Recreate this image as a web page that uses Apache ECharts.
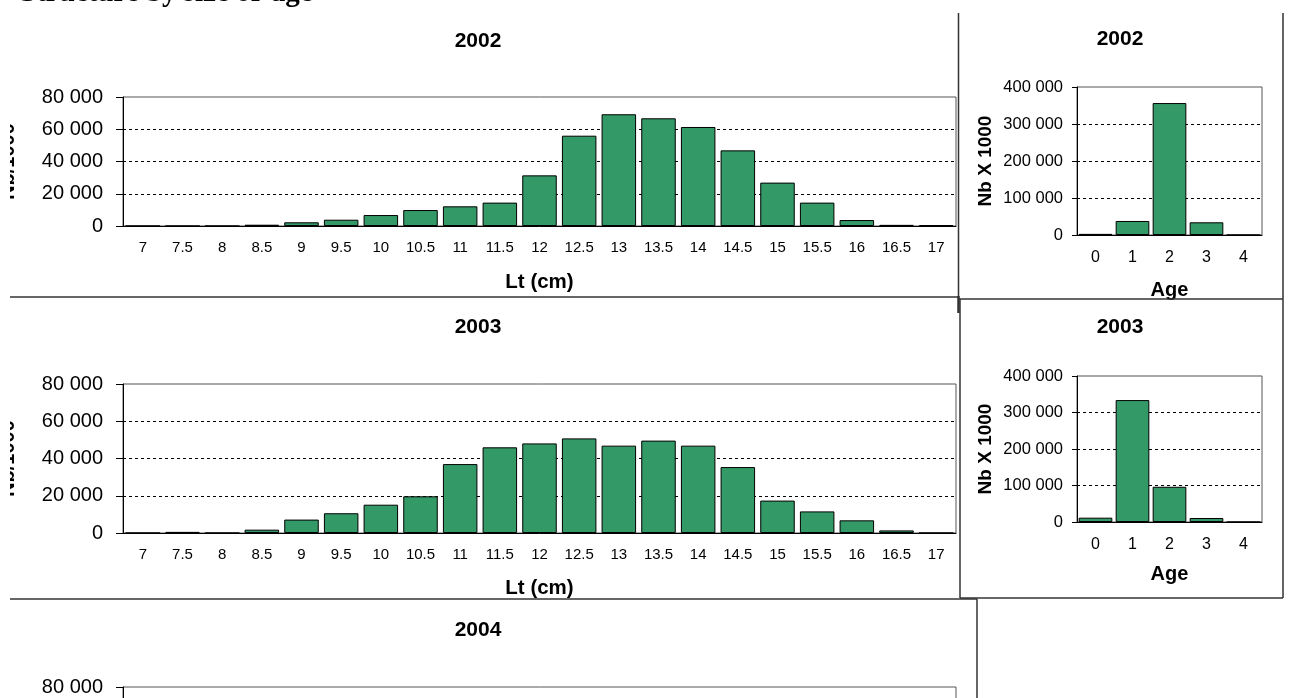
<!DOCTYPE html>
<html>
<head>
<meta charset="utf-8">
<script src="https://cdn.jsdelivr.net/npm/echarts@6/dist/echarts.min.js"></script>
<style>
html,body{margin:0;padding:0;background:#fff;}
#c{width:1294px;height:698px;}
</style>
</head>
<body>
<div id="c"></div>
<script>
// ---- data ----
const lengthCats = ['7','7.5','8','8.5','9','9.5','10','10.5','11','11.5','12','12.5','13','13.5','14','14.5','15','15.5','16','16.5','17'];
const len2002 = [0,0,0,800,2300,3900,6800,9900,12200,14500,31400,56000,69300,66800,61400,46900,26900,14500,3700,700,600];
const len2003 = [0,600,0,1800,7200,10600,15200,19700,37000,46000,48100,50800,46900,49600,46900,35400,17400,11600,6800,1400,0];
const len2004 = [];
const ageCats = ['0','1','2','3','4'];
const age2002 = [3000,37900,356600,34300,0];
const age2003 = [11900,334000,96500,11000,0];
const yearTitles = ['2002','2003','2004'];
const pageTitle = 'Structure by size or age';

// ---- styling ----
const FONT = '"Liberation Sans", Arial, sans-serif';
const GREEN = '#339966';
const fmt = v => String(v).replace(/\B(?=(\d{3})+(?!\d))/g, ' ');

function xAxisLen(gi, gap) {
  return {
    type: 'category', gridIndex: gi, data: lengthCats,
    name: 'Lt (cm)', nameLocation: 'middle', nameGap: gap,
    nameTextStyle: {fontFamily: FONT, fontWeight: 'bold', fontSize: 20.5, color: '#000'},
    axisLine: {lineStyle: {color: '#000', width: 1}},
    axisTick: {length: 5, lineStyle: {color: '#000'}},
    axisLabel: {fontFamily: FONT, fontSize: 15, color: '#000', margin: 14, interval: 0}
  };
}
function yAxisLen(gi) {
  return {
    type: 'value', gridIndex: gi, min: 0, max: 80000, interval: 20000,
    name: 'Nb/1000', nameLocation: 'middle', nameGap: 105, nameRotate: 90,
    nameTextStyle: {fontFamily: FONT, fontWeight: 'bold', fontSize: 20, color: '#000'},
    axisLine: {show: true, lineStyle: {color: '#000', width: 1}},
    axisTick: {show: true, length: 7, lineStyle: {color: '#000'}},
    axisLabel: {fontFamily: FONT, fontSize: 20, color: '#000', margin: 20, formatter: fmt},
    splitLine: {show: true, showMinLine: false, showMaxLine: false, lineStyle: {color: '#000', type: [3, 3], width: 1}}
  };
}
function xAxisAge(gi, gap) {
  return {
    type: 'category', gridIndex: gi, data: ageCats,
    name: 'Age', nameLocation: 'middle', nameGap: gap,
    nameTextStyle: {fontFamily: FONT, fontWeight: 'bold', fontSize: 20, color: '#000'},
    axisLine: {lineStyle: {color: '#000', width: 1}},
    axisTick: {length: 5, lineStyle: {color: '#000'}},
    axisLabel: {fontFamily: FONT, fontSize: 16, color: '#000', margin: 15, interval: 0}
  };
}
function yAxisAge(gi) {
  return {
    type: 'value', gridIndex: gi, min: 0, max: 400000, interval: 100000,
    name: 'Nb X 1000', nameLocation: 'middle', nameGap: 82, nameRotate: 90,
    nameTextStyle: {fontFamily: FONT, fontWeight: 'bold', fontSize: 19, color: '#000'},
    axisLine: {show: true, lineStyle: {color: '#000', width: 1}},
    axisTick: {show: true, length: 5, lineStyle: {color: '#000'}},
    axisLabel: {fontFamily: FONT, fontSize: 16.5, color: '#000', margin: 14, formatter: fmt},
    splitLine: {show: true, showMinLine: false, showMaxLine: false, lineStyle: {color: '#000', type: [3, 3], width: 1}}
  };
}
function barSeries(xi, data, gap) {
  return {
    type: 'bar', xAxisIndex: xi, yAxisIndex: xi, data: data,
    barCategoryGap: gap, animation: false,
    itemStyle: {color: GREEN, borderColor: '#000', borderWidth: 1}
  };
}
const gridStyle = {show: true, borderColor: '#555', borderWidth: 1, backgroundColor: 'transparent', containLabel: false, outerBoundsMode: 'none'};

const titleStyle = {fontFamily: FONT, fontWeight: 'bold', fontSize: 21, color: '#000'};

function line(x1, y1, x2, y2, w) {
  return {type: 'line', z: 100, shape: {x1, y1, x2, y2}, style: {stroke: '#333', lineWidth: w || 1.5}};
}

const option = {
  animation: false,
  backgroundColor: '#fff',
  title: [
    {text: yearTitles[0], left: 478, top: 31, textAlign: 'center', padding: 0, textStyle: titleStyle},
    {text: yearTitles[1], left: 478, top: 317, textAlign: 'center', padding: 0, textStyle: titleStyle},
    {text: yearTitles[2], left: 478, top: 620, textAlign: 'center', padding: 0, textStyle: titleStyle},
    {text: yearTitles[0], left: 1120, top: 29, textAlign: 'center', padding: 0, textStyle: titleStyle},
    {text: yearTitles[1], left: 1120, top: 317, textAlign: 'center', padding: 0, textStyle: titleStyle}
  ],
  grid: [
    Object.assign({left: 123, top: 97, width: 833, height: 129}, gridStyle),
    Object.assign({left: 123, top: 384, width: 833, height: 149}, gridStyle),
    Object.assign({left: 123, top: 687, width: 833, height: 149}, gridStyle),
    Object.assign({left: 1077, top: 87, width: 185, height: 148}, gridStyle),
    Object.assign({left: 1077, top: 376, width: 185, height: 146}, gridStyle)
  ],
  xAxis: [xAxisLen(0, 46), xAxisLen(1, 45), xAxisLen(2, 46), xAxisAge(3, 45), xAxisAge(4, 42)],
  yAxis: [yAxisLen(0), yAxisLen(1), yAxisLen(2), yAxisAge(3), yAxisAge(4)],
  series: [
    barSeries(0, len2002, '13%'),
    barSeries(1, len2003, '13%'),
    barSeries(2, len2004, '13%'),
    barSeries(3, age2002, '9%'),
    barSeries(4, age2003, '9%')
  ],
  graphic: [
    {type: 'rect', z: 90, shape: {x: 0, y: 14, width: 10, height: 684}, style: {fill: '#fff'}},
    {type: 'text', z: 100, x: 20, y: 8, style: {text: pageTitle, font: 'bold 29px "Liberation Serif", "Times New Roman", serif', fill: '#000', verticalAlign: 'bottom'}},
    line(958.5, 13, 958.5, 299),
    line(1283, 13, 1283, 299),
    line(10, 297, 958.5, 297),
    line(958.5, 299, 1283, 299),
    line(958.5, 296, 958.5, 313, 2.5),
    line(960, 299, 960, 598),
    line(1283, 299, 1283, 598),
    line(960, 598, 1283, 598),
    line(10, 599, 977, 599),
    line(977, 599, 977, 698)
  ]
};

const chart = echarts.init(document.getElementById('c'), null, {renderer: 'canvas'});
chart.setOption(option);
</script>
</body>
</html>
